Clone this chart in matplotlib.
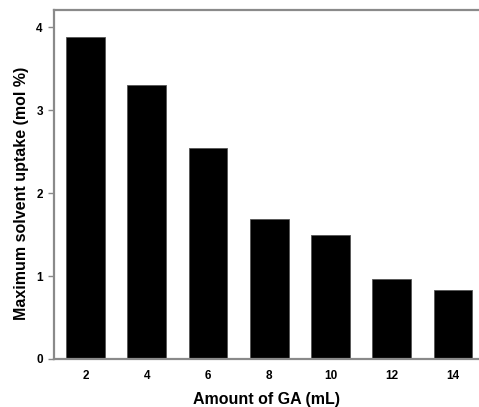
import matplotlib
matplotlib.use("Agg")
import matplotlib.pyplot as plt

# Data
ga_amount = [2, 4, 6, 8, 10, 12, 14]
uptake = [3.89, 3.31, 2.54, 1.69, 1.50, 0.96, 0.83]
y_ticks = [0, 1, 2, 3, 4]

plt.rcParams['font.family'] = ['Liberation Sans', 'DejaVu Sans']
plt.rcParams['font.weight'] = 'bold'

fig = plt.figure(figsize=(4.79, 4.07), dpi=100)
ax = fig.add_axes([0.1127, 0.118, 0.8873, 0.8574])

ax.bar(ga_amount, uptake, width=1.27, color="black", edgecolor="#555555", linewidth=0.6)

ax.set_xlim(0.97, 14.85)
ax.set_ylim(0, 4.21)
ax.set_xticks(ga_amount)
ax.set_yticks(y_ticks)
ax.tick_params(axis="x", length=0, pad=8, labelsize=8.5)
ax.tick_params(axis="y", length=4, width=1, color="#888888", pad=4, labelsize=8.5)
for lbl in ax.get_xticklabels() + ax.get_yticklabels():
    lbl.set_fontweight("bold")

for side in ["left", "top", "bottom"]:
    ax.spines[side].set_color("#8a8a8a")
    ax.spines[side].set_linewidth(1.6)
ax.spines["right"].set_visible(False)

ax.set_xlabel("Amount of GA (mL)", fontsize=11.5, fontweight="bold", labelpad=7)
ax.set_ylabel("Maximum solvent uptake (mol %)", fontsize=11.5, fontweight="bold")
ax.yaxis.set_label_coords(-0.058, 0.474)

fig.savefig("out.png", dpi=100)
